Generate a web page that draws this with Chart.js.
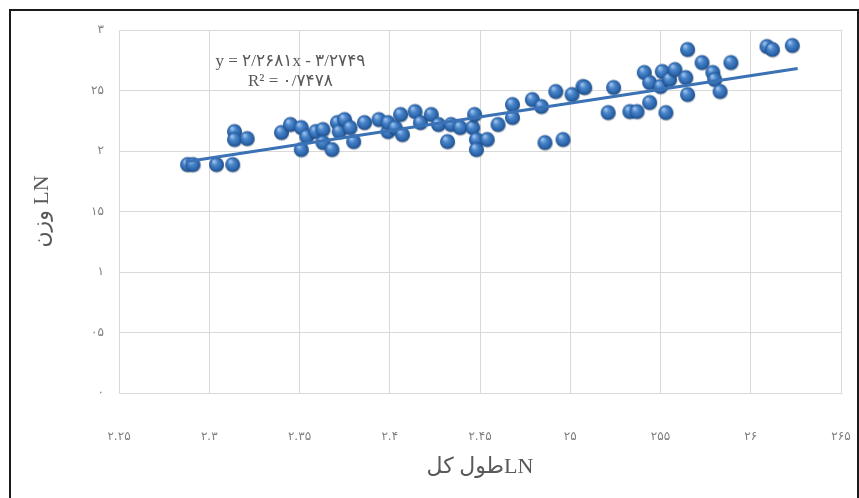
<!DOCTYPE html>
<html>
<head>
<meta charset="utf-8">
<script src="https://cdn.jsdelivr.net/npm/chart.js@4/dist/chart.umd.min.js"></script>
<style>
  html, body { margin: 0; padding: 0; background: #fff; }
  #frame { position: absolute; left: 9px; top: 9px; width: 846px; height: 500px; border: 2px solid #1a1a1a; }
  #myChart { position: absolute; left: 0; top: 0; }
</style>
</head>
<body>
<div id="frame"></div>
<canvas id="myChart" width="859" height="498"></canvas>
<script>
// LN total length (x) vs LN weight (y)
const lnLength = [2.288, 2.291, 2.304, 2.313, 2.314, 2.314, 2.321, 2.340, 2.345, 2.351,
  2.351, 2.354, 2.359, 2.363, 2.363, 2.368, 2.371, 2.372, 2.375, 2.378,
  2.380, 2.386, 2.394, 2.399, 2.399, 2.403, 2.406, 2.407, 2.414, 2.417,
  2.423, 2.427, 2.432, 2.434, 2.439, 2.446, 2.447, 2.448, 2.448, 2.454,
  2.460, 2.468, 2.468, 2.479, 2.484, 2.486, 2.492, 2.496, 2.501, 2.507,
  2.508, 2.521, 2.524, 2.533, 2.537, 2.541, 2.544, 2.544, 2.550, 2.551,
  2.553, 2.555, 2.558, 2.564, 2.565, 2.565, 2.573, 2.579, 2.580, 2.583,
  2.589, 2.609, 2.612, 2.623];
const lnWeight = [1.884, 1.884, 1.884, 1.884, 2.157, 2.091, 2.099, 2.149, 2.215, 2.190,
  2.008, 2.116, 2.157, 2.174, 2.066, 2.008, 2.231, 2.157, 2.256, 2.190,
  2.074, 2.231, 2.256, 2.157, 2.231, 2.190, 2.298, 2.132, 2.322, 2.231,
  2.298, 2.215, 2.074, 2.215, 2.190, 2.190, 2.298, 2.091, 2.008, 2.091,
  2.215, 2.273, 2.380, 2.421, 2.364, 2.066, 2.488, 2.091, 2.463, 2.529,
  2.521, 2.314, 2.521, 2.322, 2.322, 2.645, 2.562, 2.397, 2.529, 2.653,
  2.314, 2.587, 2.669, 2.603, 2.835, 2.463, 2.727, 2.645, 2.587, 2.488,
  2.727, 2.860, 2.835, 2.868];

// linear trendline end points
const trendX = [2.287, 2.626];
const trendY = [1.912, 2.681];

const xTickLabels = ['۲.۲۵', '۲.۳', '۲.۳۵', '۲.۴', '۲.۴۵', '۲۵', '۲۵۵', '۲۶', '۲۶۵'];
const yTickLabels = ['۰', '۰۵', '۱', '۱۵', '۲', '۲۵', '۳'];
const equationLines = ['y = ۲/۲۶۸۱x - ۳/۲۷۴۹', 'R² = ۰/۷۴۷۸'];

// shaded ball marker like the Excel 3D point style
function makeBall(r) {
  const size = r * 2 + 4;
  const c = document.createElement('canvas');
  c.width = size; c.height = size;
  const ctx = c.getContext('2d');
  const cx = size / 2, cy = size / 2 - 0.5;
  // soft shadow
  ctx.fillStyle = 'rgba(0,0,0,0.18)';
  ctx.beginPath();
  ctx.ellipse(cx + 0.5, cy + 1.8, r, r * 0.9, 0, 0, Math.PI * 2);
  ctx.fill();
  const g = ctx.createRadialGradient(cx - r * 0.35, cy - r * 0.45, r * 0.1, cx, cy, r);
  g.addColorStop(0, '#9cc0ea');
  g.addColorStop(0.35, '#4a86cc');
  g.addColorStop(0.8, '#2a63a8');
  g.addColorStop(1, '#1d4a82');
  ctx.fillStyle = g;
  ctx.beginPath();
  ctx.arc(cx, cy, r, 0, Math.PI * 2);
  ctx.fill();
  return c;
}
const ball = makeBall(7.5);

const equationPlugin = {
  id: 'equation',
  afterDatasetsDraw(chart) {
    const {ctx, scales} = chart;
    const x = scales.x.getPixelForValue(2.345);
    const y = scales.y.getPixelForValue(2.74);
    ctx.save();
    ctx.fillStyle = '#595959';
    ctx.font = '17px "Liberation Serif", "DejaVu Sans", serif';
    ctx.textAlign = 'center';
    ctx.textBaseline = 'middle';
    equationLines.forEach((t, i) => ctx.fillText(t, x, y + i * 20));
    ctx.restore();
  }
};

const gridColor = '#d9d9d9';
const tickFont = { family: '"DejaVu Sans", sans-serif', size: 12 };
const titleFont = { family: '"Liberation Serif", "DejaVu Sans", serif', size: 22 };

const config = {
  type: 'scatter',
  data: {
    datasets: [{
      type: 'line',
      label: 'trend',
      data: trendX.map((x, i) => ({ x: x, y: trendY[i] })),
      borderColor: '#3a72b5',
      borderWidth: 3,
      pointRadius: 0,
      fill: false
    }, {
      label: 'LN',
      data: lnLength.map((x, i) => ({ x: x, y: lnWeight[i] })),
      pointStyle: ball,
      pointRadius: 7
    }]
  },
  plugins: [equationPlugin],
  options: {
    responsive: false,
    animation: false,
    layout: { padding: { left: 0, top: 30, right: 18, bottom: 0 } },
    plugins: { legend: { display: false }, tooltip: { enabled: false } },
    scales: {
      x: {
        type: 'linear',
        min: 2.25, max: 2.65,
        afterBuildTicks: s => { s.ticks = xTickLabels.map((_, i) => ({ value: 2.25 + i * 0.05 })); },
        afterFit: s => { s.height = 105; s.paddingLeft = 0; s.paddingRight = 0; },
        grid: { color: gridColor, drawTicks: false },
        border: { color: gridColor },
        ticks: {
          padding: 37,
          color: '#7f7f7f',
          font: tickFont,
          maxRotation: 0,
          callback: (v, i) => xTickLabels[i]
        },
        title: {
          display: true,
          text: 'طول کلLN',
          color: '#595959',
          font: titleFont,
          padding: { top: 0, bottom: 18 }
        }
      },
      y: {
        min: 0, max: 3,
        afterBuildTicks: s => { s.ticks = yTickLabels.map((_, i) => ({ value: i * 0.5 })); },
        afterFit: s => { s.width = 119; s.paddingTop = 0; s.paddingBottom = 0; },
        grid: { color: gridColor, drawTicks: false },
        border: { color: gridColor },
        ticks: {
          padding: 15,
          color: '#7f7f7f',
          font: tickFont,
          callback: (v, i) => yTickLabels[i]
        },
        title: {
          display: true,
          text: 'وزن LN',
          color: '#595959',
          font: titleFont,
          padding: { top: 29, bottom: 0 }
        }
      }
    }
  }
};

var myChart = new Chart(document.getElementById('myChart'), config);
</script>
</body>
</html>
